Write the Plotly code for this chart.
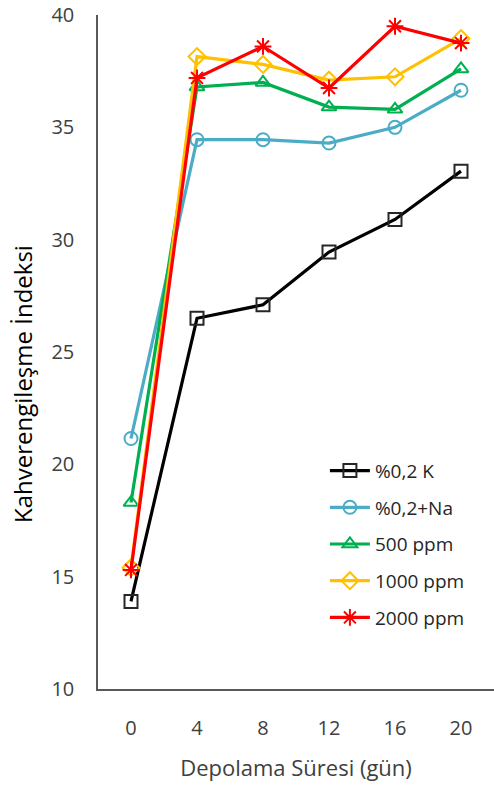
import plotly.graph_objects as go

days = ["0", "4", "8", "12", "16", "20"]
series_names = ["%0,2 K", "%0,2+Na", "500 ppm", "1000 ppm", "2000 ppm"]
k02 = [13.9, 26.5, 27.1, 29.45, 30.9, 33.05]
na02 = [21.15, 34.45, 34.45, 34.3, 35.0, 36.65]
ppm500 = [18.3, 36.8, 37.0, 35.9, 35.8, 37.6]
ppm1000 = [15.4, 38.15, 37.8, 37.1, 37.25, 38.95]
ppm2000 = [15.3, 37.2, 38.6, 36.75, 39.5, 38.75]
y_ticks = [10, 15, 20, 25, 30, 35, 40]
y_title = "Kahverengileşme İndeksi"
x_title = "Depolama Süresi (gün)"

values = [k02, na02, ppm500, ppm1000, ppm2000]
colors = ["#000000", "#4BACC6", "#00B050", "#FFC000", "#FF0000"]
symbols = ["square-open", "circle-open", "triangle-up-open", "diamond-open", "asterisk-open"]
msizes = [13, 13, 13, 13, 14]

fig = go.Figure()
for i, (name, vals) in enumerate(zip(series_names, values)):
    mcol = "#262626" if i == 0 else colors[i]
    fig.add_trace(go.Scatter(
        x=days, y=vals, name=name, mode="lines+markers",
        legendgroup=str(i),
        line=dict(color=colors[i], width=3.2),
        marker=dict(symbol=symbols[i], size=msizes[i], color=mcol,
                    line=dict(color=mcol, width=2)),
    ))

fig.add_annotation(text=y_title, xref="paper", yref="paper",
                   x=-0.192, y=0.4525, xanchor="center", yanchor="middle",
                   textangle=-90, showarrow=False,
                   font=dict(size=24, color="#000000", family="Open Sans"))

fig.update_layout(
    width=494, height=787,
    margin=dict(l=98, r=0, t=15, b=98),
    paper_bgcolor="white", plot_bgcolor="white",
    font=dict(family="Open Sans", color="#404040", size=16),
    showlegend=True,
    legend=dict(x=0.573, y=0.352, xanchor="left", yanchor="top",
                font=dict(size=19, color="#262626"), tracegroupgap=9,
                bgcolor="rgba(0,0,0,0)", itemwidth=40),
    xaxis=dict(type="category", range=[-0.5, 5.5], showgrid=False,
               showline=True, linecolor="#595959", linewidth=1.5,
               ticks="", ticklabelstandoff=20,
               tickfont=dict(size=20, color="#404040"),
               title=dict(text=x_title, standoff=21,
                          font=dict(size=22, color="#404040"))),
    yaxis=dict(range=[10, 40], tickvals=y_ticks, showgrid=False, zeroline=False,
               showline=True, linecolor="#595959", linewidth=1.5,
               ticks="", ticklabelstandoff=18,
               tickfont=dict(size=20, color="#404040")),
)

fig.write_html("out.html")
